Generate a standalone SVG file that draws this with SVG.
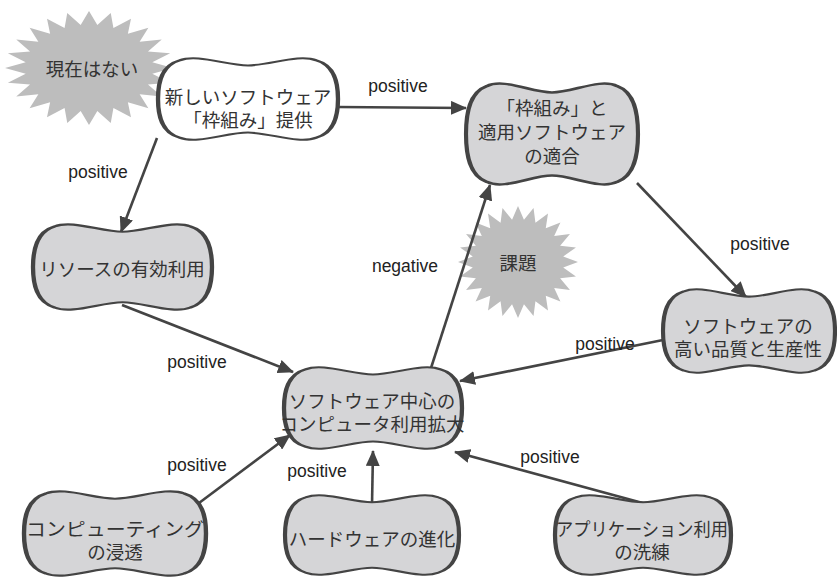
<svg xmlns="http://www.w3.org/2000/svg" xmlns:xlink="http://www.w3.org/1999/xlink" width="837" height="579" viewBox="0 0 837 579">
<style>
.blob{stroke:#444;stroke-width:2.4;vector-effect:non-scaling-stroke;}
.gray{fill:#d5d5d7;}
.white{fill:#ffffff;}
.star{fill:#bdbdbd;}
.t{font-family:"Noto Sans CJK JP","Liberation Sans",sans-serif;font-size:18.5px;fill:#333;text-anchor:middle;dominant-baseline:central;}
.lbl{font-family:"Liberation Sans",Arial,sans-serif;font-size:17.5px;fill:#222;text-anchor:middle;dominant-baseline:central;}
.edge{stroke:#444;stroke-width:2.6;fill:none;marker-end:url(#arr);}
</style>
<defs>
<marker id="arr" markerUnits="userSpaceOnUse" markerWidth="16" markerHeight="14" viewBox="0 0 16 14" refX="15" refY="7" orient="auto">
<path d="M0,0 L16,7 L0,14 Z" fill="#444"/>
</marker>
<path id="blobp" d="M 0,50 C 0,30 2,10 12,4 C 22,-4 38,10 50,10 C 62,10 78,-4 88,4 C 98,10 100,30 100,50 C 100,70 98,90 88,96 C 78,104 62,90 50,90 C 38,90 22,104 12,96 C 2,90 0,70 0,50 Z"/>
<polygon id="starp" points="100,0 75.35,9.92 96.59,25.88 70.21,29.08 86.6,50 60.29,46.27 70.71,70.71 46.27,60.29 50,86.6 29.08,70.21 25.88,96.59 9.92,75.35 0,100 -9.92,75.35 -25.88,96.59 -29.08,70.21 -50,86.6 -46.27,60.29 -70.71,70.71 -60.29,46.27 -86.6,50 -70.21,29.08 -96.59,25.88 -75.35,9.92 -100,0 -75.35,-9.92 -96.59,-25.88 -70.21,-29.08 -86.6,-50 -60.29,-46.27 -70.71,-70.71 -46.27,-60.29 -50,-86.6 -29.08,-70.21 -25.88,-96.59 -9.92,-75.35 0,-100 9.92,-75.35 25.88,-96.59 29.08,-70.21 50,-86.6 46.27,-60.29 70.71,-70.71 60.29,-46.27 86.6,-50 70.21,-29.08 96.59,-25.88 75.35,-9.92"/>
</defs>
<rect width="837" height="579" fill="#ffffff"/>

<g id="star-genzai">
<use xlink:href="#starp" class="star" transform="translate(89,68) scale(0.84,0.57)"/>
<text class="t" x="92" y="68">現在はない</text>
</g>
<g id="star-kadai">
<use xlink:href="#starp" class="star" transform="translate(518,262) scale(0.6,0.56)"/>
<text class="t" x="518" y="262">課題</text>
</g>

<g id="connectors">
<line class="edge" x1="157" y1="138" x2="121" y2="232"/>
<line class="edge" x1="337" y1="107" x2="466" y2="108"/>
<line class="edge" x1="637" y1="183" x2="746" y2="297"/>
<line class="edge" x1="663" y1="340" x2="460" y2="381"/>
<line class="edge" x1="122" y1="305" x2="293" y2="372"/>
<line class="edge" x1="431" y1="368" x2="490" y2="185"/>
<line class="edge" x1="195" y1="506" x2="290" y2="435"/>
<line class="edge" x1="372" y1="505" x2="373" y2="451"/>
<line class="edge" x1="650" y1="505" x2="455" y2="452"/>
<text class="lbl" x="98" y="172">positive</text>
<text class="lbl" x="398" y="86">positive</text>
<text class="lbl" x="760" y="244">positive</text>
<text class="lbl" x="605" y="344">positive</text>
<text class="lbl" x="197" y="362">positive</text>
<text class="lbl" x="405" y="266">negative</text>
<text class="lbl" x="197" y="465">positive</text>
<text class="lbl" x="317" y="471">positive</text>
<text class="lbl" x="550" y="457">positive</text>
</g>

<g id="n-atarashii">
<use xlink:href="#blobp" class="blob white" transform="translate(158,57) scale(1.8,0.84)"/>
<text class="t" x="248" y="96">新しいソフトウェア</text>
<text class="t" x="248" y="119">「枠組み」提供</text>
</g>
<g id="n-tekigo">
<use xlink:href="#blobp" class="blob gray" transform="translate(466,82) scale(1.72,1.04)"/>
<text class="t" x="552" y="107">「枠組み」と</text>
<text class="t" x="552" y="131">適用ソフトウェア</text>
<text class="t" x="552" y="155">の適合</text>
</g>
<g id="n-resource">
<use xlink:href="#blobp" class="blob gray" transform="translate(33,223) scale(1.79,0.88)"/>
<text class="t" x="122" y="268">リソースの有効利用</text>
</g>
<g id="n-center">
<use xlink:href="#blobp" class="blob gray" transform="translate(284,366) scale(1.78,0.84)"/>
<text class="t" x="372" y="400">ソフトウェア中心の</text>
<text class="t" x="372" y="423">コンピュータ利用拡大</text>
</g>
<g id="n-quality">
<use xlink:href="#blobp" class="blob gray" transform="translate(663,288) scale(1.72,0.86)"/>
<text class="t" x="748" y="325">ソフトウェアの</text>
<text class="t" x="748" y="348">高い品質と生産性</text>
</g>
<g id="n-computing">
<use xlink:href="#blobp" class="blob gray" transform="translate(24,490) scale(1.82,0.87)"/>
<text class="t" x="115" y="528" textLength="178" lengthAdjust="spacingAndGlyphs">コンピューティング</text>
<text class="t" x="115" y="551">の浸透</text>
</g>
<g id="n-hardware">
<use xlink:href="#blobp" class="blob gray" transform="translate(285,494) scale(1.74,0.82)"/>
<text class="t" x="372" y="538">ハードウェアの進化</text>
</g>
<g id="n-app">
<use xlink:href="#blobp" class="blob gray" transform="translate(555,494) scale(1.76,0.82)"/>
<text class="t" x="642" y="528" textLength="172" lengthAdjust="spacingAndGlyphs">アプリケーション利用</text>
<text class="t" x="642" y="551">の洗練</text>
</g>
</svg>
